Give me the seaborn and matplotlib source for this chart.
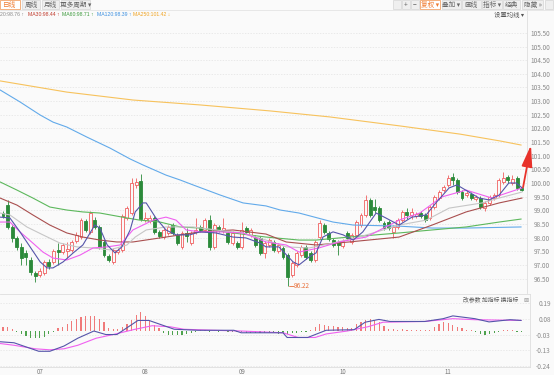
import numpy as np
import pandas as pd
import matplotlib
matplotlib.use("Agg")
import matplotlib.pyplot as plt
from matplotlib.patches import Rectangle
import seaborn as sns

# ---------------- data ----------------
opens = [98.90, 99.19, 98.39, 97.99, 97.66, 97.44, 97.18, 96.70, 96.63, 96.70,
         97.11, 97.11, 97.55, 97.47, 97.51, 97.55, 97.88, 98.02, 98.61, 98.21,
         98.64, 98.39, 97.84, 97.33, 97.11, 97.47, 97.55, 98.72, 98.90, 99.93,
         100.07, 98.64, 98.61, 98.72, 98.21, 98.02, 98.17, 98.46, 98.10, 97.66,
         98.17, 97.80, 98.21, 98.39, 98.28, 98.64, 97.66, 98.39, 98.28, 98.17,
         97.80, 97.80, 97.66, 98.35, 98.10, 98.02, 97.99, 97.44, 97.73, 97.84,
         97.51, 97.62, 97.36, 96.63, 97.00, 97.36, 97.66, 97.44, 97.18, 98.02,
         98.46, 98.17, 97.91, 97.84, 97.69, 98.17, 97.84, 98.10, 98.46, 98.83,
         99.38, 99.12, 99.08, 98.53, 98.57, 98.21, 98.39, 98.64, 98.94, 98.83,
         98.79, 98.90, 98.83, 98.72, 99.12, 99.45, 99.74, 99.93, 100.22, 100.11,
         99.67, 99.56, 99.60, 99.42, 99.45, 99.08, 99.27, 99.45, 99.56, 100.04,
         100.22, 100.00, 100.18, 99.82]
closes = [98.79, 98.39, 97.99, 97.66, 97.25, 97.29, 96.74, 96.59, 96.78, 97.11,
          96.96, 97.51, 97.47, 97.73, 97.58, 97.84, 98.10, 98.64, 98.28, 98.90,
          98.39, 97.66, 97.36, 97.18, 97.55, 97.55, 98.79, 99.08, 100.00, 100.04,
          98.68, 98.72, 98.72, 98.21, 98.06, 98.28, 98.39, 98.17, 97.80, 98.17,
          98.06, 98.17, 98.28, 98.28, 98.64, 97.66, 98.46, 98.28, 98.35, 97.84,
          98.17, 97.66, 98.28, 98.21, 98.28, 97.73, 97.44, 97.80, 97.91, 97.55,
          97.73, 97.29, 96.56, 97.07, 97.44, 97.66, 97.29, 97.18, 97.84, 98.53,
          98.21, 97.95, 97.73, 97.73, 97.88, 97.99, 98.10, 98.57, 98.83, 99.38,
          98.83, 99.01, 98.64, 98.35, 98.35, 98.39, 98.64, 98.94, 98.83, 98.94,
          98.86, 98.79, 98.64, 99.12, 99.49, 99.67, 99.85, 100.18, 100.11, 99.67,
          99.45, 99.63, 99.45, 99.49, 99.12, 99.27, 99.49, 99.56, 100.11, 100.18,
          100.11, 100.15, 99.82, 99.74]
highs = [98.97, 99.38, 98.46, 98.06, 97.80, 97.55, 97.29, 96.78, 96.89, 97.18,
         97.22, 97.58, 97.80, 97.80, 97.84, 97.91, 98.21, 98.72, 98.68, 98.97,
         98.75, 98.46, 97.91, 97.40, 97.62, 97.62, 98.86, 99.16, 100.18, 100.18,
         100.33, 98.94, 98.83, 98.79, 98.28, 98.35, 98.46, 98.53, 98.17, 98.24,
         98.35, 98.24, 98.72, 98.46, 98.72, 98.83, 98.53, 98.46, 98.72, 98.24,
         98.24, 97.88, 98.57, 98.42, 98.35, 98.10, 98.06, 97.88, 97.99, 97.91,
         97.80, 97.69, 97.44, 97.14, 97.51, 97.73, 97.73, 97.51, 97.91, 98.64,
         98.53, 98.24, 97.99, 97.91, 97.95, 98.24, 98.17, 98.64, 98.90, 99.56,
         99.45, 99.41, 99.16, 98.61, 98.64, 98.46, 98.72, 99.01, 99.08, 99.08,
         98.94, 98.97, 98.90, 99.19, 99.56, 99.74, 99.93, 100.29, 100.36, 100.18,
         99.74, 99.70, 99.67, 99.56, 99.52, 99.34, 99.56, 99.63, 100.18, 100.40,
         100.29, 100.29, 100.25, 99.85]
lows = [98.72, 98.32, 97.84, 97.55, 97.00, 97.00, 96.63, 96.37, 96.56, 96.63,
        96.85, 97.04, 97.00, 97.40, 97.25, 97.47, 97.80, 97.95, 98.21, 98.14,
        98.32, 97.58, 97.29, 97.11, 97.04, 97.40, 97.47, 98.64, 98.83, 99.82,
        98.61, 98.57, 98.53, 98.14, 97.99, 97.95, 98.10, 98.10, 97.73, 97.58,
        97.84, 97.73, 98.14, 98.21, 98.21, 97.55, 97.58, 98.21, 98.17, 97.77,
        97.73, 97.58, 97.58, 98.14, 98.02, 97.66, 97.36, 97.25, 97.66, 97.47,
        97.44, 97.22, 96.22, 96.56, 96.93, 97.29, 97.22, 97.11, 97.11, 97.95,
        98.14, 97.88, 97.66, 97.36, 97.62, 97.91, 97.77, 98.02, 98.39, 98.75,
        98.75, 98.90, 98.57, 98.28, 98.28, 97.99, 98.32, 98.57, 98.68, 98.68,
        98.72, 98.72, 98.57, 98.64, 99.05, 99.38, 99.67, 99.85, 99.93, 99.60,
        99.38, 99.49, 99.38, 99.34, 99.05, 98.97, 99.19, 99.38, 99.49, 99.97,
        100.00, 99.93, 99.74, 99.70]

# moving-average lines: (candle position, value) points
ma5_x = [-0.65, 1.5, 3.7, 5.9, 8.1, 9.6, 10.9, 13.1, 15.3, 17.4, 20.0, 21.1, 22.7, 24.4, 25.9,
         27.7, 28.8, 30.5, 31.2, 33.3, 35.5, 37.7, 40.7, 42.9, 46.4, 50.1, 52.9, 56.0, 57.3, 60.1,
         63.2, 64.5, 66.7, 68.2, 69.7, 71.9, 74.1, 76.3, 78.4, 81.3, 83.4, 86.3, 89.1, 92.2, 94.3,
         97.2, 98.9, 101.5, 103.7, 105.9, 108.1, 110.2, 111.8, 113.1]
ma5_y = [98.75, 98.72, 98.21, 97.66, 97.11, 96.89, 96.89, 97.11, 97.44, 97.73, 98.46, 98.35, 97.73, 97.44, 97.66,
         98.28, 98.94, 99.27, 99.27, 98.72, 98.28, 98.10, 98.10, 98.21, 98.17, 98.02, 97.99, 97.80, 97.66, 97.66,
         97.11, 97.00, 97.29, 97.44, 98.02, 98.21, 98.10, 97.91, 98.21, 98.90, 98.72, 98.46, 98.75, 98.83, 99.27,
         99.82, 99.93, 99.67, 99.45, 99.38, 99.56, 100.00, 100.00, 99.82]
ma10_x = [-0.65, 1.5, 3.7, 6.5, 8.7, 10.9, 13.9, 16.8, 19.6, 22.7, 25.5, 28.3, 32.7, 35.5, 37.7, 39.9,
          42.9, 47.3, 52.3, 57.3, 61.7, 64.5, 68.8, 73.2, 79.1, 86.3, 90.8, 95.6, 100.9, 106.5, 113.1]
ma10_y = [98.57, 98.57, 98.21, 97.80, 97.47, 97.25, 97.18, 97.36, 97.62, 97.66, 97.73, 98.28, 98.64, 98.75, 98.64, 98.28,
          98.21, 98.21, 98.17, 97.84, 97.73, 97.47, 97.62, 97.84, 98.02, 98.64, 98.90, 99.49, 99.74, 99.45, 99.82]
ma20_x = [-0.65, 1.5, 5.2, 8.7, 12.4, 16.1, 19.6, 23.3, 27.0, 28.8, 31.2, 35.5, 41.4, 46.4, 52.3,
          57.3, 61.7, 66.7, 71.9, 77.6, 82.8, 86.3, 92.2, 97.2, 104.4, 108.1, 113.1]
ma20_y = [98.90, 98.83, 98.39, 98.10, 97.80, 97.66, 97.62, 97.55, 97.73, 98.02, 98.28, 98.39, 98.39, 98.28, 98.17,
          97.91, 97.66, 97.62, 97.80, 98.02, 98.28, 98.46, 98.64, 99.08, 99.27, 99.45, 99.67]
ma30_x = [-0.65, 3.05, 6.5, 10.2, 13.9, 17.4, 21.1, 24.8, 28.3, 35.5, 42.9, 50.1, 57.3, 61.7, 68.2,
          75.4, 86.3, 93.5, 100.9, 108.1, 113.1]
ma30_y = [99.45, 99.19, 98.83, 98.46, 98.17, 98.02, 97.91, 97.84, 97.84, 98.02, 98.21, 98.28, 98.13, 97.84, 97.73,
          97.84, 98.02, 98.46, 98.94, 99.27, 99.45]
ma60_x = [-0.65, 3.05, 6.5, 10.2, 13.9, 17.4, 21.1, 27.0, 29.8, 34.2, 38.6, 42.9, 50.1, 57.3, 64.5,
          68.2, 75.4, 86.3, 93.5, 100.9, 108.1, 112.9]
ma60_y = [100.04, 99.74, 99.45, 99.12, 99.01, 98.94, 98.90, 98.72, 98.64, 98.57, 98.39, 98.35, 98.17, 98.02, 97.91,
          97.91, 98.02, 98.17, 98.28, 98.39, 98.57, 98.68]
ma120_x = [-0.65, 3.7, 8.1, 10.9, 13.9, 18.3, 23.3, 27.7, 30.5, 35.5, 38.6, 41.4, 47.3, 52.3, 57.3,
           60.4, 64.5, 71.9, 76.3, 86.3, 93.5, 100.9, 112.9]
ma120_y = [103.41, 102.97, 102.49, 102.23, 102.05, 101.68, 101.28, 100.88, 100.66, 100.29, 100.11, 99.93, 99.56,
           99.27, 99.16, 99.01, 98.90, 98.57, 98.46, 98.42, 98.35, 98.35, 98.39]
ma250_x = [-0.65, 13.9, 28.3, 42.9, 58.2, 71.2, 86.5, 99.6, 108.3, 112.9]
ma250_y = [103.74, 103.33, 103.04, 102.86, 102.64, 102.42, 102.09, 101.79, 101.54, 101.39]

# MACD panel
macd_hist = [0.03, 0.025, 0.015, -0.01, -0.02, -0.035, -0.045, -0.05, -0.05, -0.04,
             -0.02, -0.005, 0.02, 0.03, 0.05, 0.07, 0.08, 0.095, 0.10, 0.105,
             0.10, 0.08, 0.06, 0.02, 0.015, 0.012, 0.03, 0.05, 0.075, 0.11,
             0.13, 0.105, 0.07, 0.04, 0.02, -0.015, -0.025, -0.03, -0.03, -0.025,
             -0.02, -0.015, -0.01, 0.005, 0.005, -0.005, 0.004, -0.004, 0.005, -0.006,
             -0.008, -0.005, -0.01, -0.012, -0.012, -0.015, -0.015, -0.012, -0.015, -0.015,
             -0.018, -0.015, -0.018, -0.015, -0.012, -0.008, -0.01, 0.008, 0.03, 0.045,
             0.043, 0.037, 0.037, 0.03, 0.025, 0.02, 0.02, 0.045, 0.06, 0.075,
             0.085, 0.075, 0.06, 0.035, 0.015, 0.012, 0.01, 0.012, 0.01, 0.008,
             0.01, 0.008, 0.005, 0.01, 0.03, 0.045, 0.06, 0.055, 0.04, 0.03,
             0.02, 0.01, 0.005, -0.005, -0.02, -0.025, -0.02, -0.015, -0.01, 0.005,
             0.008, 0.01, -0.005, -0.008]
dif_x = [-0.65, 2.4, 7.8, 10.2, 13.3, 16.3, 19.8, 22.4, 24.8, 29.4, 31.8, 37.3, 42.5, 50.3, 51.9,
         61.0, 61.9, 66.4, 70.4, 76.5, 78.9, 81.9, 84.3, 91.9, 95.9, 98.0, 102.8, 105.9, 110.5, 112.9]
dif_y = [-0.073, -0.080, -0.138, -0.138, -0.102, -0.049, 0.0, -0.024, -0.024, 0.072, 0.072, 0.012, 0.005, 0.005,
         -0.012, -0.012, -0.044, -0.044, 0.005, 0.009, 0.060, 0.079, 0.065, 0.065, 0.084, 0.103, 0.084, 0.062,
         0.077, 0.072]
dea_x = [-0.65, 2.4, 7.0, 10.2, 13.3, 16.3, 20.3, 24.0, 28.8, 32.5, 36.4, 39.4, 45.8, 51.9, 61.0,
         64.3, 68.0, 70.4, 75.0, 79.5, 82.8, 91.9, 98.0, 102.8, 112.9]
dea_y = [-0.085, -0.097, -0.121, -0.128, -0.121, -0.097, -0.049, -0.024, 0.012, 0.036, 0.029, 0.012, 0.005, 0.0,
         -0.012, -0.044, -0.044, -0.020, 0.0, 0.029, 0.060, 0.065, 0.084, 0.077, 0.072]

price_ticks = [96.5, 97.0, 97.5, 98.0, 98.5, 99.0, 99.5, 100.0, 100.5, 101.0, 101.5,
               102.0, 102.5, 103.0, 103.5, 104.0, 104.5, 105.0, 105.5]
macd_ticks = [0.19, 0.08, -0.03, -0.13, -0.24]
month_first_idx = [8, 31, 52, 74, 97]
month_labels = ["07", "08", "09", "10", "11"]
arrow_target = 101.39

header_items = [("20:98.76 ↑", "#8a8a8a"), ("MA30:98.44 ↑", "#c0392b"), ("MA60:98.71 ↑", "#3c9a3c"),
                ("MA120:98.39 ↑", "#3b8fe0"), ("MA250:101.42 ↓", "#f0a321")]

# ---------------- style ----------------
sns.set_theme(style="white")
plt.rcParams['font.family'] = ['Noto Sans CJK SC', 'DejaVu Sans']
plt.rcParams['axes.unicode_minus'] = False

BG = '#fafafa'
RED, GREEN = '#f05f5f', '#2b8a3a'
W, H = 554, 375
fig = plt.figure(figsize=(W / 100, H / 100), dpi=100, facecolor=BG)


def box(x0, y0, x1, y1):
    return [x0 / W, 1 - y1 / H, (x1 - x0) / W, (y1 - y0) / H]


PX0, PXS = 3.0, 4.59          # pixel of first candle, candle spacing


def idx_at(px):
    return (px - PX0) / PXS


def price_at(py):              # vertical scale of the main panel
    return 100 - (py - 183) / 27.3


ax = fig.add_axes(box(0, 10, 527, 293))
axm = fig.add_axes(box(0, 294, 530, 367))
for a in (ax, axm):
    a.set_facecolor(BG)

# ---------------- candles ----------------
o, c, h, l = map(np.array, (opens, closes, highs, lows))
n = len(c)
idx = np.arange(n)
up = c >= o
cols = np.where(up, RED, GREEN)
ax.vlines(idx, l, h, colors=cols, linewidth=0.6, zorder=3)
bot = np.minimum(o, c)
hgt = np.maximum(np.abs(c - o), 0.015)
ax.bar(idx[up], hgt[up], bottom=bot[up], width=0.64, facecolor=BG, edgecolor=RED, linewidth=0.6, zorder=4)
ax.bar(idx[~up], hgt[~up], bottom=bot[~up], width=0.64, facecolor=GREEN, edgecolor=GREEN, linewidth=0.6, zorder=4)

ma_lines = [(ma250_x, ma250_y, '#f7c25c'), (ma120_x, ma120_y, '#62aaea'), (ma60_x, ma60_y, '#5cb85c'),
            (ma30_x, ma30_y, '#a94f4f'), (ma20_x, ma20_y, '#c6c6c6'), (ma10_x, ma10_y, '#f060f0'),
            (ma5_x, ma5_y, '#5555aa')]
for xs, ys, colr in ma_lines:
    sns.lineplot(x=xs, y=ys, ax=ax, color=colr, linewidth=0.8, estimator=None, sort=False,
                 legend=False, zorder=5)

ax.set_xlim(idx_at(0), idx_at(527))
ax.set_ylim(price_at(293), price_at(10))
ax.set_yticks(price_ticks)
ax.set_yticklabels([f"{t:.2f}" for t in price_ticks])
ax.yaxis.tick_right()
ax.tick_params(axis='y', length=0, pad=16.5, labelsize=4.6, labelcolor='#8a8a8a')
for lab in ax.get_yticklabels():
    lab.set_horizontalalignment('right')
ax.set_xticks([])
ax.grid(axis='y', color='#e3e3e3', linewidth=0.5, linestyle=(0, (2, 2)))
for s in ('left', 'top', 'bottom'):
    ax.spines[s].set_visible(False)
ax.spines['right'].set_color('#dedede')
ax.spines['right'].set_linewidth(0.6)
ax.set_xlabel('')
ax.set_ylabel('')

# lowest point label
imin = int(np.argmin(l))
ax.plot([imin + 0.3, imin + 1.3], [l[imin], l[imin]], color='#e8703a', linewidth=0.6, zorder=6)
ax.text(imin + 1.4, l[imin], f"{l[imin]:.2f}", color='#e8703a', fontsize=4.6, va='center', ha='left', zorder=6)

# red arrow
ax.annotate("", xy=(idx_at(531), arrow_target), xytext=(n - 1 + 0.3, c[-1] + 0.1),
            arrowprops=dict(arrowstyle='-|>,head_length=1.3,head_width=0.32', color='#e8322b',
                            lw=1.3, mutation_scale=10, shrinkA=0, shrinkB=0),
            annotation_clip=False, zorder=7)

# ---------------- MACD ----------------
hist = np.array(macd_hist)
axm.bar(idx, hist, width=0.26, color=np.where(hist >= 0, '#f07a7a', '#4ea24e'), linewidth=0, zorder=3)
sns.lineplot(x=dea_x, y=dea_y, ax=axm, color='#f060f0', linewidth=0.8, estimator=None, sort=False, legend=False, zorder=4)
sns.lineplot(x=dif_x, y=dif_y, ax=axm, color='#5555aa', linewidth=0.8, estimator=None, sort=False, legend=False, zorder=5)
axm.set_xlim(idx_at(0), idx_at(530))
axm.set_ylim(-0.245, 0.252)
axm.set_yticks(macd_ticks)
axm.set_yticklabels([f"{t:.2f}" for t in macd_ticks])
axm.yaxis.tick_right()
axm.tick_params(axis='y', length=0, pad=15, labelsize=4.6, labelcolor='#8a8a8a')
for lab in axm.get_yticklabels():
    lab.set_horizontalalignment('right')
axm.set_xticks(month_first_idx)
axm.set_xticklabels(month_labels)
axm.tick_params(axis='x', length=0, pad=0.6, labelsize=4.4, labelcolor='#777777')
axm.grid(axis='y', color='#e3e3e3', linewidth=0.5, linestyle=(0, (2, 2)))
axm.spines['left'].set_visible(False)
for s in ('top', 'right', 'bottom'):
    axm.spines[s].set_color('#dedede')
    axm.spines[s].set_linewidth(0.6)
axm.set_xlabel('')
axm.set_ylabel('')

fig.text(463 / W, 1 - 300 / H, "改参数 加指标 换指标", fontsize=4.2, color='#555555', va='center', ha='left')
fig.text(528.5 / W, 1 - 300 / H, "⊠", fontsize=4.4, color='#999999', va='center', ha='right',
         family=['DejaVu Sans'])

# ---------------- toolbar & header ----------------
def button(x0, x1, label, active=False):
    fc = '#ffffff' if active else '#efefef'
    ec = '#f2a46b' if active else '#dadada'
    tc = '#f07a2e' if active else '#666666'
    fig.patches.append(Rectangle((x0 / W, 1 - 9 / H), (x1 - x0) / W, 8.6 / H, transform=fig.transFigure,
                                 facecolor=fc, edgecolor=ec, linewidth=0.6))
    fig.text((x0 + x1) / 2 / W, 1 - 4.6 / H, label, ha='center', va='center', fontsize=4.8, color=tc)


fig.add_artist(plt.Line2D([0, 1], [1 - 9.5 / H, 1 - 9.5 / H], transform=fig.transFigure,
                          color='#e4e4e4', linewidth=0.6))
button(0, 20, "日线", active=True)
button(22, 40, "周线")
button(42, 59, "月线")
button(61, 90, "更多周期 ▾")
button(393, 401, "")
button(402, 410, "+")
button(411, 419, "−")
button(420, 440, "复权 ▾", active=True)
button(442, 461, "叠加 ▾")
button(462, 481, "画线")
button(482, 502, "指标 ▾")
button(503, 520, "经典")
button(522, 543, "隐藏 »")
button(545, 553, "")

hx = [0, 28, 62, 97, 133]
for (txt, colr), x0 in zip(header_items, hx):
    fig.text(x0 / W, 1 - 15 / H, txt, fontsize=3.7, color=colr, va='center', ha='left',
             family=['Liberation Sans', 'DejaVu Sans'])
fig.text(524 / W, 1 - 15 / H, "设置均线 ▾", fontsize=4.6, color='#555555', va='center', ha='right')

fig.savefig("out.png", dpi=100, facecolor=BG)
